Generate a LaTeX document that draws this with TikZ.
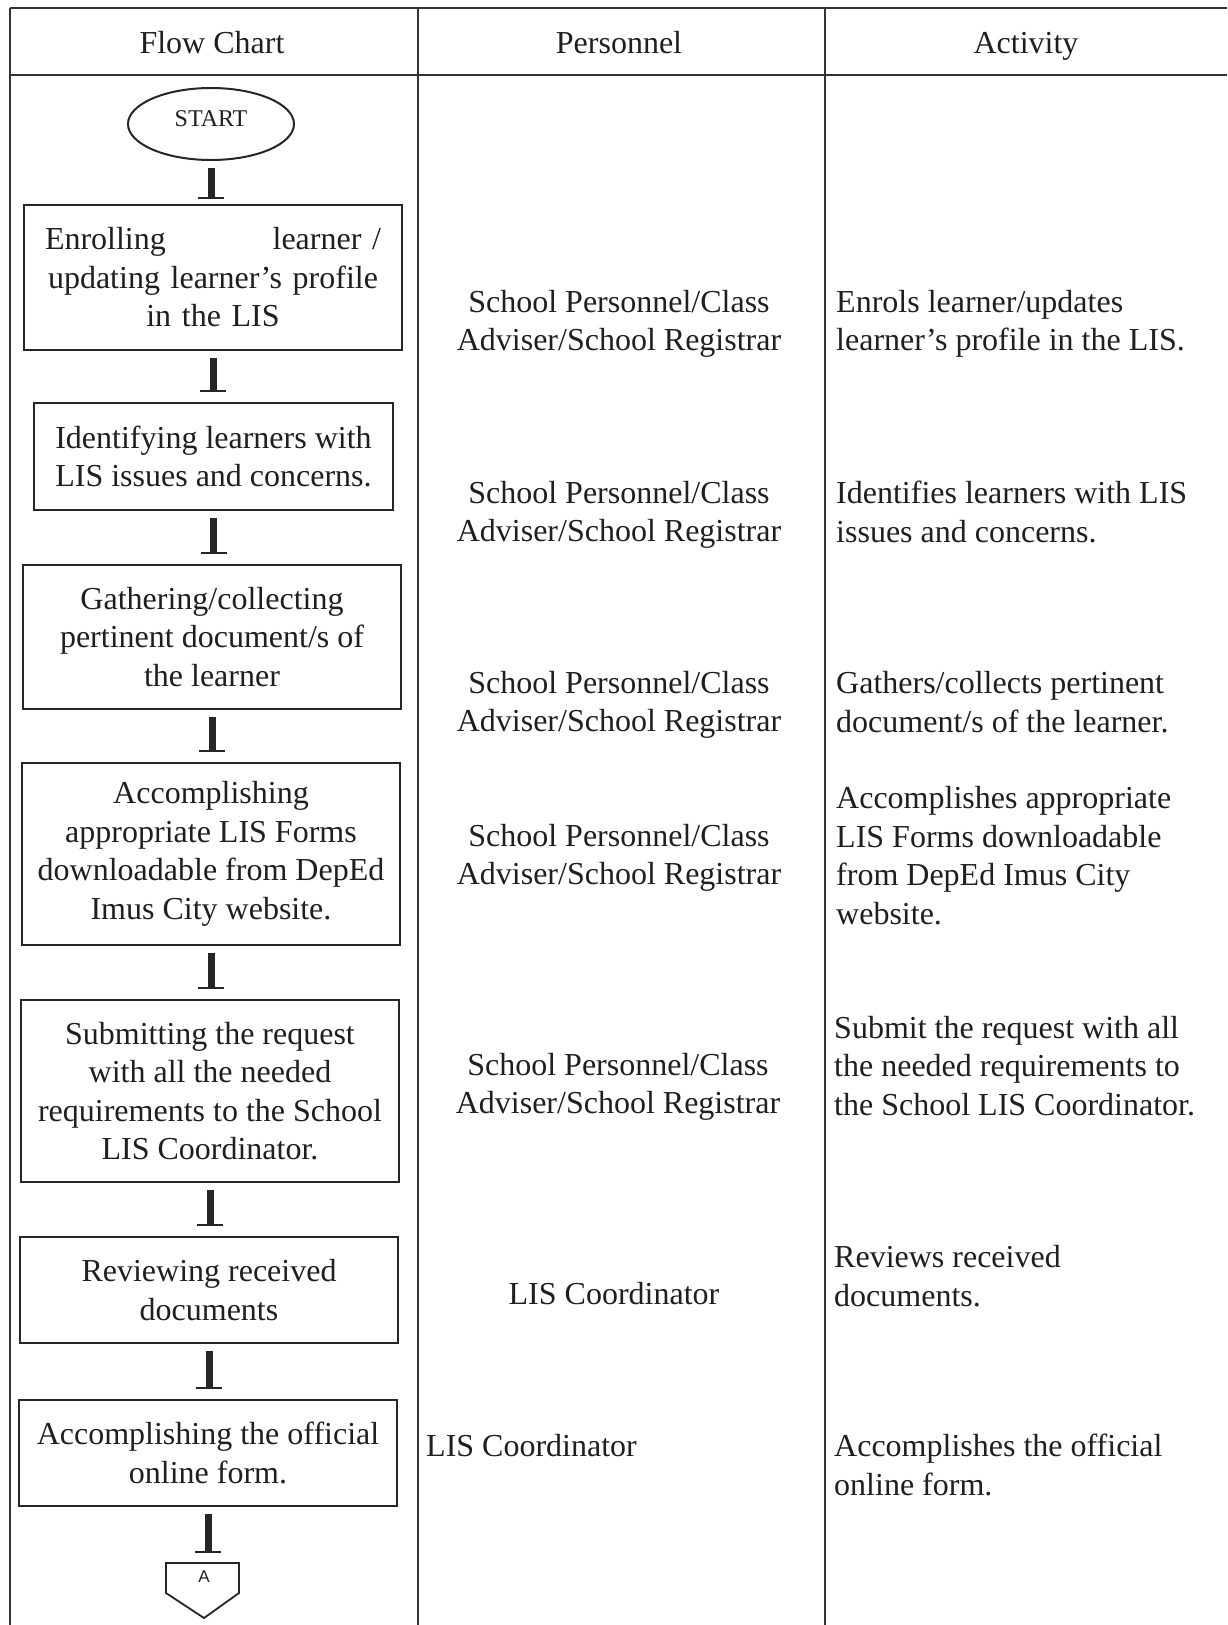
\documentclass[tikz,border=0pt]{standalone}
\usepackage{fontspec}
\setmainfont{Liberation Serif}
\newfontfamily\arialfont{Liberation Sans}
\usetikzlibrary{shapes.geometric,arrows.meta}
\begin{document}
\begin{tikzpicture}[x=1pt,y=-1pt,
  every node/.style={inner sep=0pt, text=black!88, font=\fontsize{32}{38.5}\selectfont},
  grid/.style={line width=2pt, draw=black!80},
  fbox/.style={draw=black!85, line width=2.2pt, align=center, minimum width=378pt},
  conn/.style={draw=black!85, line width=7pt, -{Bar[width=26pt,line width=2pt]}, shorten <=7pt, shorten >=10pt},
  ptext/.style={align=center},
  atext/.style={align=left, anchor=west},
  one/.style={text height=22pt, text depth=7pt}
]
\useasboundingbox (0,0) rectangle (1227,1625);
\fill[white] (0,0) rectangle (1227,1625);

% table grid
\draw[grid] (10,8) -- (1227,8);
\draw[grid] (10,75) -- (1227,75);
\draw[grid] (10,8) -- (10,1625);
\draw[grid] (418,8) -- (418,1625);
\draw[grid] (825,8) -- (825,1625);

% headers
\node[one] (h1) at (212,46) {Flow Chart};
\node[one] (h2) at (619,46) {Personnel};
\node[one] (h3) at (1026,46) {Activity};

% flow chart
\node[draw=black!85, ellipse, line width=2pt, minimum width=166pt, minimum height=72pt,
      font=\fontsize{24}{28}\selectfont] (start) at (211,124) {\raisebox{10pt}{START}};
\node[fbox, minimum height=145pt, text width=336pt] (b1) at (213,277.5)
  {Enrolling\hfill learner /\\updating learner’s profile\\in the LIS};
\node[fbox, minimum width=359pt, minimum height=107pt] (b2) at (213.5,456.5)
  {Identifying learners with\\LIS issues and concerns.};
\node[fbox, minimum height=144pt] (b3) at (212,637)
  {Gathering/collecting\\pertinent document/s of\\the learner};
\node[fbox, minimum height=182pt] (b4) at (211,854)
  {Accomplishing\\appropriate LIS Forms\\downloadable from DepEd\\Imus City website.};
\node[fbox, minimum height=182pt] (b5) at (210,1091)
  {Submitting the request\\with all the needed\\requirements to the School\\LIS Coordinator.};
\node[fbox, minimum height=106pt] (b6) at (209,1290)
  {Reviewing received\\documents};
\node[fbox, minimum height=106pt] (b7) at (208,1453)
  {Accomplishing the official\\online form.};

% off-page connector
\coordinate (ca) at (208,1563);
\draw[draw=black!85, line width=1.8pt] (166,1563) -- (239,1563) -- (239,1593) -- (204,1618) -- (166,1593) -- cycle;
\node[font=\arialfont\fontsize{17}{20}\selectfont] (ta) at (204,1577) {A};

% connectors
\draw[conn, shorten >=5pt] (start.south) -- (start.south |- b1.north);
\draw[conn] (b1.south) -- (b1.south |- b2.north);
\draw[conn] (b2.south) -- (b2.south |- b3.north);
\draw[conn] (b3.south) -- (b3.south |- b4.north);
\draw[conn] (b4.south) -- (b4.south |- b5.north);
\draw[conn] (b5.south) -- (b5.south |- b6.north);
\draw[conn] (b6.south) -- (b6.south |- b7.north);
\draw[conn] (b7.south) -- (b7.south |- ca);

% personnel
\node[ptext] (p1) at (619,324) {School Personnel/Class\\Adviser/School Registrar};
\node[ptext] (p2) at (619,515) {School Personnel/Class\\Adviser/School Registrar};
\node[ptext] (p3) at (619,705) {School Personnel/Class\\Adviser/School Registrar};
\node[ptext] (p4) at (619,858) {School Personnel/Class\\Adviser/School Registrar};
\node[ptext] (p5) at (618,1087) {School Personnel/Class\\Adviser/School Registrar};
\node[one] (p6) at (614,1297) {LIS Coordinator};
\node[one, anchor=west] (p7) at (426,1449) {LIS Coordinator};

% activity
\node[atext] (a1) at (836,324) {Enrols learner/updates\\learner’s profile in the LIS.};
\node[atext] (a2) at (836,512) {Identifies learners with LIS\\issues and concerns.};
\node[atext] (a3) at (836,702) {Gathers/collects pertinent\\document/s of the learner.};
\node[atext] (a4) at (836,855.5) {Accomplishes appropriate\\LIS Forms downloadable\\from DepEd Imus City\\website.};
\node[atext] (a5) at (834,1066) {Submit the request with all\\the needed requirements to\\the School LIS Coordinator.};
\node[atext] (a6) at (834,1276) {Reviews received\\documents.};
\node[atext] (a7) at (834,1465) {Accomplishes the official\\online form.};
\end{tikzpicture}
\end{document}
